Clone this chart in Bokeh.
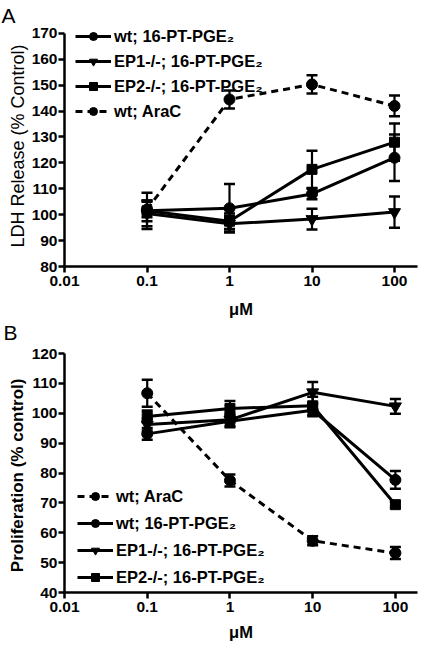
from bokeh.plotting import figure
from bokeh.layouts import column
from bokeh.models import (FixedTicker, Whisker, TeeHead, ColumnDataSource, Legend,
                          LegendItem, Range1d, Label)
from bokeh.embed import file_html
from bokeh.resources import INLINE

FONT = "Liberation Sans"

# ---------------- data ----------------
conc = [0.1, 1, 10, 100]
x_ticks = [0.01, 0.1, 1, 10, 100]
x_tick_labels = ["0.01", "0.1", "1", "10", "100"]

# Panel A: LDH release (% control)
a_wt_pge2 = [101.5, 102.5, 108, 122]
a_wt_pge2_err = [7, 9.4, 2, 9]
a_ep1_pge2 = [100.5, 96.5, 98.3, 101]
a_ep1_pge2_err = [5, 3, 4, 6]
a_ep2_pge2 = [101.5, 97.5, 117.5, 128]
a_ep2_pge2_err = [4, 3, 7.2, 7.2]
a_wt_arac = [102, 144.5, 150.3, 142]
a_wt_arac_err = [3, 3.5, 3.5, 4]
a_y_ticks = [80, 90, 100, 110, 120, 130, 140, 150, 160, 170]

# Panel B: proliferation (% control)
b_wt_arac = [106.7, 77.5, 57.3, 53.2]
b_wt_arac_err = [4.5, 2, 1.5, 2]
b_wt_pge2 = [93.1, 97.3, 101, 77.7]
b_wt_pge2_err = [2, 2, 2, 3]
b_ep1_pge2 = [96.2, 97.8, 107, 102.3]
b_ep1_pge2_err = [2, 2, 3.5, 2.5]
b_ep2_pge2 = [98.9, 101.6, 102.5, 69.4]
b_ep2_pge2_err = [2, 2.5, 3, 1]
b_y_ticks = [40, 50, 60, 70, 80, 90, 100, 110, 120]

LBL_WT = "wt; 16-PT-PGE\u2082"
LBL_EP1 = "EP1-/-; 16-PT-PGE\u2082"
LBL_EP2 = "EP2-/-; 16-PT-PGE\u2082"
LBL_ARAC = "wt; AraC"


def style(p, y_ticks, ybounds, ylabel, ylabel_bold, ylabel_size, ylab_standoff,
          xlab_standoff):
    p.xaxis.ticker = FixedTicker(ticks=x_ticks, minor_ticks=[])
    p.xaxis.major_label_overrides = {t: l for t, l in zip(x_ticks, x_tick_labels)}
    p.yaxis.ticker = FixedTicker(ticks=y_ticks, minor_ticks=[])
    p.yaxis.bounds = ybounds
    for ax in (p.xaxis[0], p.yaxis[0]):
        ax.axis_line_width = 2.5
        ax.major_tick_line_width = 2.5
        ax.major_tick_out = 6
        ax.major_tick_in = 0
        ax.minor_tick_out = 0
        ax.minor_tick_in = 0
        ax.major_label_text_font = FONT
        ax.major_label_text_font_style = "bold"
        ax.major_label_text_font_size = "15.5px"
        ax.major_label_text_color = "black"
        ax.axis_label_text_font = FONT
        ax.axis_label_text_color = "black"
        ax.axis_line_color = "black"
        ax.major_tick_line_color = "black"
    p.xaxis.major_label_standoff = 3
    p.yaxis.major_label_standoff = 1
    p.xaxis.axis_label = "\u03bcM"
    p.xaxis.axis_label_text_font_size = "16.5px"
    p.xaxis.axis_label_text_font_style = "bold"
    p.xaxis.axis_label_standoff = xlab_standoff
    p.yaxis.axis_label = ylabel
    p.yaxis.axis_label_text_font_size = ylabel_size
    p.yaxis.axis_label_text_font_style = "bold" if ylabel_bold else "normal"
    p.yaxis.axis_label_standoff = ylab_standoff
    p.xgrid.visible = False
    p.ygrid.visible = False
    p.outline_line_color = None
    p.background_fill_color = "white"
    p.border_fill_color = "white"


def letter(p, txt, x, y):
    p.add_layout(Label(x=x, y=y, x_units="screen", y_units="screen", text=txt,
                       text_font=FONT, text_font_size="21px", text_baseline="top",
                       text_align="left", text_color="black"), "above")


def series(p, ys, errs, marker, size, dashed=False):
    src = ColumnDataSource(dict(x=conc, y=ys,
                                lo=[v - e for v, e in zip(ys, errs)],
                                hi=[v + e for v, e in zip(ys, errs)]))
    w = Whisker(base="x", lower="lo", upper="hi", source=src, dimension="height",
                line_color="black", line_width=2.2,
                upper_head=TeeHead(size=11, line_width=2.5, line_color="black"),
                lower_head=TeeHead(size=11, line_width=2.5, line_color="black"))
    p.add_layout(w)
    ln = p.line("x", "y", source=src, line_color="black", line_width=3,
                line_dash="7 5" if dashed else "solid")
    sc = p.scatter("x", "y", source=src, marker=marker, size=size,
                   fill_color="black", line_color="black")
    return [ln, sc]


def legend(p, items, loc, spacing):
    lg = Legend(items=[LegendItem(label=l, renderers=r) for l, r in items],
                location=loc, padding=0, margin=0, spacing=spacing,
                glyph_width=36, glyph_height=20, label_height=20,
                label_standoff=3, border_line_alpha=0, background_fill_alpha=0,
                label_text_font=FONT, label_text_font_style="bold",
                label_text_font_size="16.5px", label_text_color="black")
    p.add_layout(lg, "center")


# ---------------- Panel A ----------------
pa = figure(width=420, height=320, x_axis_type="log",
            x_range=Range1d(0.01, 190), y_range=Range1d(80, 173.05),
            min_border_left=64, min_border_right=3, min_border_top=25,
            min_border_bottom=50, output_backend="svg", toolbar_location=None)
style(pa, a_y_ticks, (80, 170), "LDH Release (% Control)", False, "18px", 1, 11)
ra_wt = series(pa, a_wt_pge2, a_wt_pge2_err, "circle", 11)
ra_ep1 = series(pa, a_ep1_pge2, a_ep1_pge2_err, "inverted_triangle", 12)
ra_ep2 = series(pa, a_ep2_pge2, a_ep2_pge2_err, "square", 10)
ra_arac = series(pa, a_wt_arac, a_wt_arac_err, "circle", 11, dashed=True)
legend(pa, [(LBL_WT, ra_wt), (LBL_EP1, ra_ep1), (LBL_EP2, ra_ep2), (LBL_ARAC, ra_arac)],
       (11, 145), 5)
letter(pa, "A", -63, 22)

# ---------------- Panel B ----------------
pb = figure(width=420, height=326, x_axis_type="log",
            x_range=Range1d(0.01, 185), y_range=Range1d(40, 120),
            min_border_left=62, min_border_right=3, min_border_top=33,
            min_border_bottom=54, output_backend="svg", toolbar_location=None)
style(pb, b_y_ticks, (40, 120), "Proliferation  (% control)", True, "17px", 2, 8)
rb_arac = series(pb, b_wt_arac, b_wt_arac_err, "circle", 11, dashed=True)
rb_wt = series(pb, b_wt_pge2, b_wt_pge2_err, "circle", 11)
rb_ep1 = series(pb, b_ep1_pge2, b_ep1_pge2_err, "inverted_triangle", 12)
rb_ep2 = series(pb, b_ep2_pge2, b_ep2_pge2_err, "square", 10)
legend(pb, [(LBL_ARAC, rb_arac), (LBL_WT, rb_wt), (LBL_EP1, rb_ep1), (LBL_EP2, rb_ep2)],
       (13, 5), 7)
letter(pb, "B", -61, 33)

layout = column(pa, pb, spacing=0)
open("out.html", "w").write(file_html(layout, INLINE))
